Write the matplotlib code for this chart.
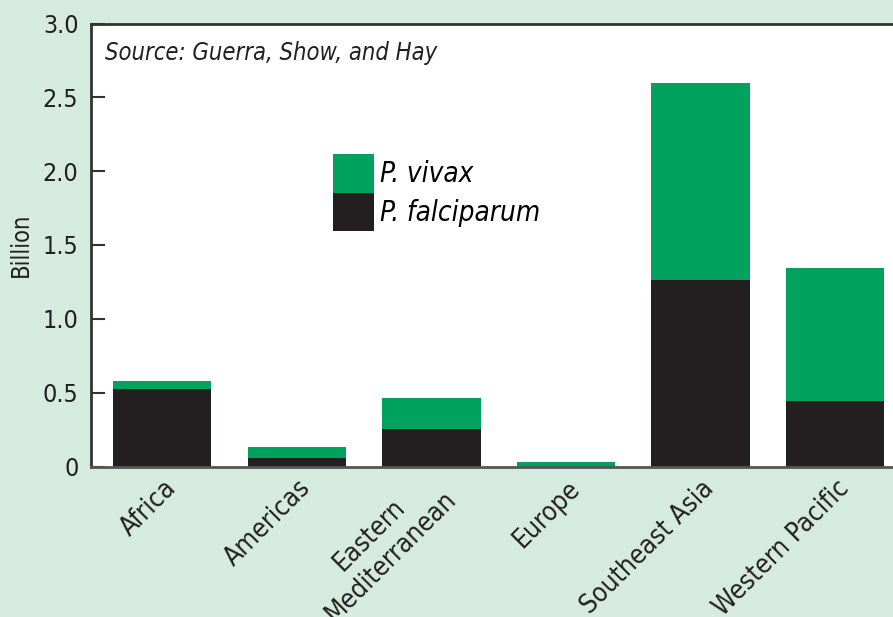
import matplotlib
matplotlib.use("Agg")
import matplotlib.pyplot as plt
from matplotlib import font_manager as fm
from matplotlib.patches import Patch
from matplotlib.transforms import ScaledTranslation

regions = ["Africa", "Americas", "Eastern\nMediterranean", "Europe",
           "Southeast Asia", "Western Pacific"]
falciparum = [0.527, 0.056, 0.252, 0.0, 1.263, 0.446]
vivax = [0.052, 0.078, 0.210, 0.028, 1.337, 0.896]
yticks = [0, 0.5, 1.0, 1.5, 2.0, 2.5, 3.0]
yticklabels = ["0", "0.5", "1.0", "1.5", "2.0", "2.5", "3.0"]

names = {f.name for f in fm.fontManager.ttflist}
fam = "Liberation Sans Narrow" if "Liberation Sans Narrow" in names else "DejaVu Sans"
stretch = "normal" if fam == "Liberation Sans Narrow" else "condensed"
plt.rcParams["font.family"] = [fam, "DejaVu Sans"]
plt.rcParams["font.stretch"] = stretch

BG = "#d5ebe0"
GREEN = "#00a25d"
BLACK = "#231f20"

fig = plt.figure(figsize=(8.93, 6.17), dpi=100, facecolor=BG)
ax = fig.add_axes([91/893, 150.5/617, 1 - 91/893, 443/617])
ax.set_facecolor("white")

x = list(range(len(regions)))
ax.bar(x, falciparum, width=0.73, color=BLACK, label="P. falciparum")
ax.bar(x, vivax, width=0.73, bottom=falciparum, color=GREEN, label="P. vivax")

ax.set_xlim(-0.53, 5.43)
ax.set_ylim(0, 3.0)
ax.set_yticks(yticks)
ax.set_yticklabels(yticklabels, fontsize=18, color="#231f20")
ax.tick_params(axis="y", direction="in", length=10, width=1.5, color="#333333", pad=9)
ax.set_xticks(x)
ax.set_xticklabels(regions, rotation=45, ha="right", va="center",
                   rotation_mode="anchor", multialignment="center",
                   fontsize=19, color="#231f20")
ax.tick_params(axis="x", length=0, pad=13)
for lab in ax.get_xticklabels():
    lab.set_transform(lab.get_transform() +
                      ScaledTranslation(10/100, 0, fig.dpi_scale_trans))

for s in ["left", "top"]:
    ax.spines[s].set_linewidth(2)
    ax.spines[s].set_color("#333333")
ax.spines["bottom"].set_linewidth(2)
ax.spines["bottom"].set_color("#555555")
ax.spines["right"].set_visible(False)

ax.set_ylabel("Billion", fontsize=17, color="#231f20", labelpad=7)

ax.text(0.017, 0.96, "Source: Guerra, Show, and Hay", transform=ax.transAxes,
        fontsize=17, style="italic", va="top", ha="left", color="#231f20")

handles = [Patch(facecolor=GREEN, label="P. vivax"),
           Patch(facecolor=BLACK, label="P. falciparum")]
leg = ax.legend(handles=handles, loc="upper left", bbox_to_anchor=(0.302, 0.705),
                frameon=False, handlelength=1.47, handleheight=1.75,
                labelspacing=0, handletextpad=0.2, borderpad=0, borderaxespad=0,
                prop={"style": "italic", "size": 20})

fig.savefig("out.png", dpi=100, facecolor=BG)
